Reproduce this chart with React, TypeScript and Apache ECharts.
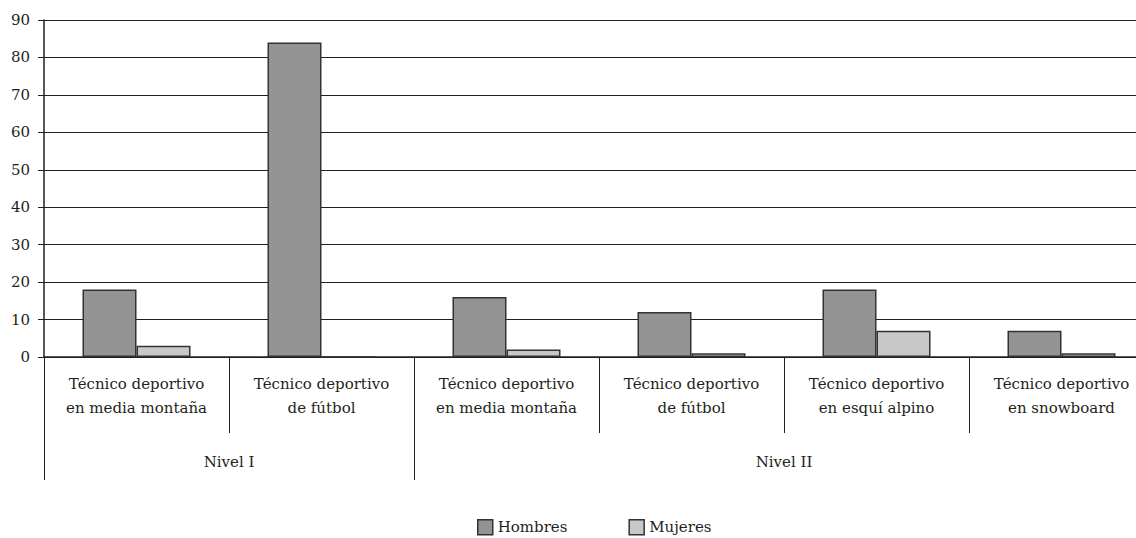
import React, { useEffect, useRef } from "react";
import * as echarts from "echarts";

const categories = [
  "Técnico deportivo\nen media montaña",
  "Técnico deportivo\nde fútbol",
  "Técnico deportivo\nen media montaña",
  "Técnico deportivo\nde fútbol",
  "Técnico deportivo\nen esquí alpino",
  "Técnico deportivo\nen snowboard",
];
const groupSlots = ["", "Nivel I", "", "", "Nivel II", "", ""];
const groupBoundaries = [0, 2, 6];
const hombres = [18, 84, 16, 12, 18, 7];
const mujeres = [3, 0, 2, 1, 7, 1];
const yTicks = { min: 0, max: 90, interval: 10 };

const FONT = "DejaVu Serif";
const FS = 15;
const TXT = "#231f20";

export default function App() {
  const ref = useRef<HTMLDivElement>(null);
  useEffect(() => {
    if (!ref.current) return;
    const chart = echarts.init(ref.current, null, { renderer: "svg" });
    chart.setOption({
      animation: false,
      textStyle: { fontFamily: FONT, color: TXT },
      grid: {
        left: 44,
        width: 1110,
        top: 20,
        bottom: 181,
        containLabel: false,
        outerBoundsMode: "none",
      },
      legend: {
        left: 477,
        top: 519,
        padding: 0,
        icon: "rect",
        itemWidth: 15,
        itemHeight: 15,
        itemGap: 61,
        itemStyle: { borderColor: "#333", borderWidth: 1.5 },
        textStyle: { fontFamily: FONT, fontSize: FS, color: TXT },
        data: ["Hombres", "Mujeres"],
      },
      xAxis: [
        {
          type: "category",
          data: categories,
          position: "bottom",
          axisLine: { show: true, lineStyle: { color: TXT, width: 1.5 } },
          axisTick: { show: true, length: 76, lineStyle: { color: TXT, width: 1 } },
          axisLabel: {
            interval: 0,
            margin: 15,
            fontFamily: FONT,
            fontSize: FS,
            lineHeight: 24,
            color: TXT,
          },
        },
        {
          type: "category",
          data: groupSlots,
          position: "bottom",
          boundaryGap: false,
          axisLine: { show: false },
          axisTick: {
            show: true,
            length: 123,
            interval: (i: number) => groupBoundaries.indexOf(i) >= 0,
            lineStyle: { color: TXT, width: 1 },
          },
          axisLabel: {
            interval: 0,
            margin: 97,
            fontFamily: FONT,
            fontSize: FS,
            color: TXT,
          },
          splitLine: { show: false },
        },
      ],
      yAxis: {
        type: "value",
        min: yTicks.min,
        max: yTicks.max,
        interval: yTicks.interval,
        axisLine: { show: true, lineStyle: { color: TXT, width: 1.5 } },
        axisTick: { show: true, length: 6, lineStyle: { color: TXT } },
        axisLabel: { fontFamily: FONT, fontSize: FS, color: TXT, margin: 14 },
        splitLine: { show: true, lineStyle: { color: TXT, width: 1.2 } },
      },
      series: [
        {
          name: "Hombres",
          type: "bar",
          data: hombres,
          barWidth: 54,
          barGap: "0%",
          itemStyle: { color: "#939393", borderColor: "#333", borderWidth: 1.5 },
        },
        {
          name: "Mujeres",
          type: "bar",
          data: mujeres,
          barWidth: 54,
          barGap: "0%",
          itemStyle: { color: "#c8c8c8", borderColor: "#333", borderWidth: 1.5 },
        },
      ],
    });
    return () => chart.dispose();
  }, []);
  return (
    <div
      ref={ref}
      style={{ position: "absolute", left: 0, top: 0, width: 1136, height: 538, background: "#fff" }}
    />
  );
}
